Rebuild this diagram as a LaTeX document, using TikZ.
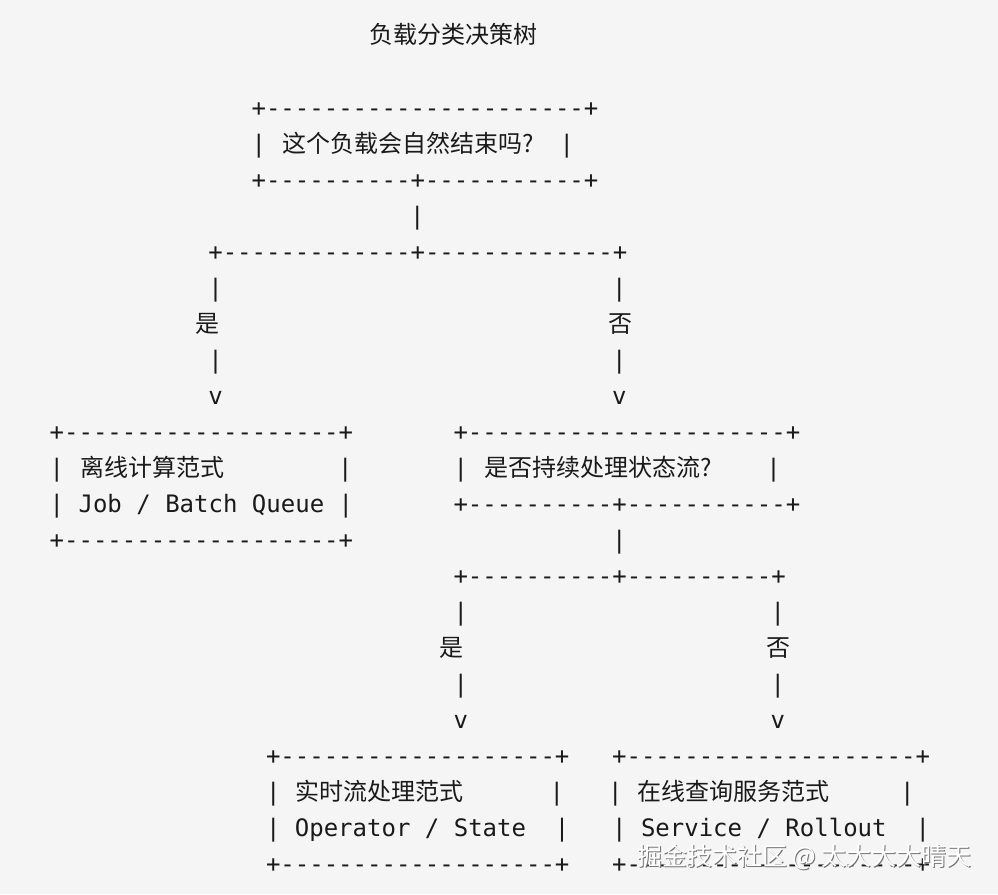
\documentclass[tikz,border=0pt]{standalone}
\usepackage{fontspec}
\setmonofont{DejaVu Sans Mono}
\newfontfamily\cjk{Noto Sans CJK SC}
\usetikzlibrary{positioning}
\definecolor{paper}{HTML}{F5F5F5}
\definecolor{ink}{HTML}{1A1A1A}
\newcommand{\dten}{----------}

\begin{document}
\begin{tikzpicture}[x=1pt,y=-1pt,
  asc/.style={anchor=base west,inner sep=0pt,text=ink,font=\ttfamily\fontsize{24}{24}\selectfont},
  han/.style={anchor=base west,inner sep=0pt,text=ink,font=\cjk\fontsize{24}{24}\selectfont},
  wmark/.style={anchor=base west,inner sep=0pt,font=\cjk\fontsize{25}{25}\selectfont}]

  \fill[paper] (0,0) rectangle (998,894);
  \useasboundingbox (0,0) rectangle (998,894);

  % title
  \node[han] (title) at (369,43) {负载分类决策树};

  % first question
  \node[asc] (qtop) at (251.4,116) {+\dten\dten--+};
  \node[asc] (qleft) at (251.4,152) {|};
  \node[han] (q) at (282,152) {这个负载会自然结束吗?};
  \node[asc] (qright) at (559.5,152) {|};
  \node[asc] (qbot) at (251.4,188) {+\dten+\dten-+};
  \node[asc] (qstem) at (410,224) {|};
  \node[asc] (qsplit) at (208.1,260) {+\dten---+\dten---+};

  \node[asc] (yes1a) at (208.1,296) {|};
  \node[asc] (no1a) at (611.9,296) {|};
  \node[han] (yes1) at (195,332) {是};
  \node[han] (no1) at (608,332) {否};
  \node[asc] (yes1b) at (208.1,368) {|};
  \node[asc] (no1b) at (611.9,368) {|};
  \node[asc] (yes1v) at (208.1,404) {v};
  \node[asc] (no1v) at (611.9,404) {v};

  % offline box
  \node[asc] (offtop) at (49.5,440) {+\dten---------+};
  \node[asc] (offleft) at (49.5,476) {|};
  \node[han] (off) at (80.5,476) {离线计算范式};
  \node[asc] (offright) at (337.9,476) {|};
  \node[asc] (offsub) at (49.5,512) {| Job / Batch Queue |};
  \node[asc] (offbot) at (49.5,548) {+\dten---------+};

  % second question
  \node[asc] (stop) at (453.3,440) {+\dten\dten--+};
  \node[asc] (sleft) at (453.3,476) {|};
  \node[han] (s) at (484,476) {是否持续处理状态流?};
  \node[asc] (sright) at (766.1,476) {|};
  \node[asc] (sbot) at (453.3,512) {+\dten+\dten-+};
  \node[asc] (sstem) at (611.9,548) {|};
  \node[asc] (ssplit) at (453.3,584) {+\dten+\dten+};

  \node[asc] (yes2a) at (453.3,620) {|};
  \node[asc] (no2a) at (770.5,620) {|};
  \node[han] (yes2) at (439.7,656) {是};
  \node[han] (no2) at (766.3,656) {否};
  \node[asc] (yes2b) at (453.3,692) {|};
  \node[asc] (no2b) at (770.5,692) {|};
  \node[asc] (yes2v) at (453.3,728) {v};
  \node[asc] (no2v) at (770.5,728) {v};

  % stream box
  \node[asc] (strtop) at (265.8,764) {+\dten---------+};
  \node[asc] (strleft) at (265.8,800) {|};
  \node[han] (str) at (295.5,800) {实时流处理范式};
  \node[asc] (strright) at (549.5,800) {|};
  \node[asc] (strsub) at (265.8,836) {| Operator / State\ \ |};
  \node[asc] (strbot) at (265.8,872) {+\dten---------+};

  % service box
  \node[asc] (svctop) at (611.9,764) {+\dten\dten+};
  \node[asc] (svcleft) at (607.8,800) {|};
  \node[han] (svc) at (637,800) {在线查询服务范式};
  \node[asc] (svcright) at (899.8,800) {|};
  \node[asc] (svcsub) at (611.9,836) {| Service / Rollout\ \ |};
  \node[asc] (svcbot) at (611.9,872) {+\dten\dten+};

  % watermark
  \node[wmark,text=black!55] (markshade) at (637.8,866) {掘金技术社区 @ 太大大大晴天};
  \node[wmark,text=white] (markfront) at (636.8,865) {掘金技术社区 @ 太大大大晴天};

\end{tikzpicture}
\end{document}
